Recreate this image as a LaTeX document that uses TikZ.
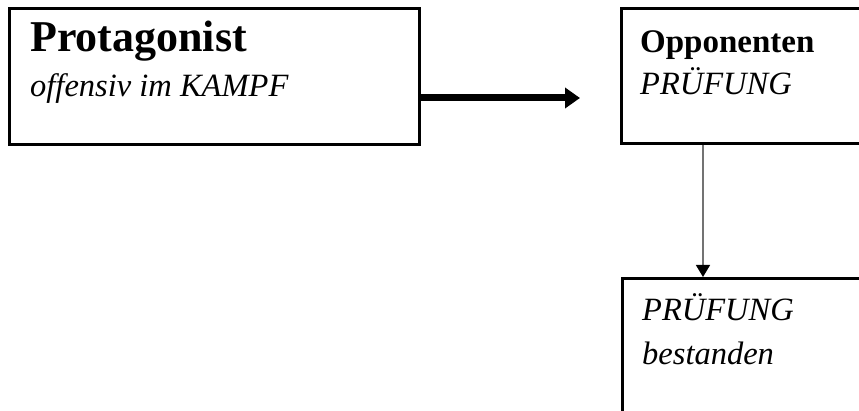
\documentclass[tikz,border=0pt]{standalone}
\usepackage{fontspec}
\setmainfont{Liberation Serif}
\usetikzlibrary{arrows.meta}
\begin{document}
\begin{tikzpicture}[x=1pt,y=-1pt,
  box/.style={draw=black,line width=3pt,rectangle,anchor=north west,inner sep=0pt},
  txt/.style={anchor=base west,inner sep=0pt,font=\fontsize{32.5}{38}\selectfont},
  big/.style={anchor=base west,inner sep=0pt,font=\fontsize{44}{50}\selectfont\bfseries}]
\useasboundingbox (0,0) rectangle (859,411);
\fill[white] (0,0) rectangle (859,411);
% boxes
\node[box,minimum width=410pt,minimum height=136pt] (p) at (8,7) {};
\node[box,minimum width=260pt,minimum height=135pt] (o) at (620,7) {};
\node[box,minimum width=260pt,minimum height=150pt] (b) at (621,277) {};
% texts
\node[big] (t1) at (30,52) {Protagonist};
\node[txt] (t2) at (30,97) {\itshape offensiv im KAMPF};
\node[txt,font=\fontsize{33}{38}\selectfont\bfseries] (t3) at (640,53) {Opponenten};
\node[txt] (t4) at (640,95) {\itshape PRÜFUNG};
\node[txt] (t5) at (642,321) {\itshape PRÜFUNG};
\node[txt] (t6) at (642,365) {\itshape bestanden};
% connectors
\coordinate (ae) at (580,98);
\draw[line width=7pt,-{Triangle[length=15pt,width=20pt]}] (p.east |- ae) -- (ae);
\draw[draw=black!55,line width=1.3pt,-{Triangle[length=12pt,width=14pt,color=black]}]
  (o.south -| 703,0) -- (b.north -| 703,0);
\end{tikzpicture}
\end{document}
